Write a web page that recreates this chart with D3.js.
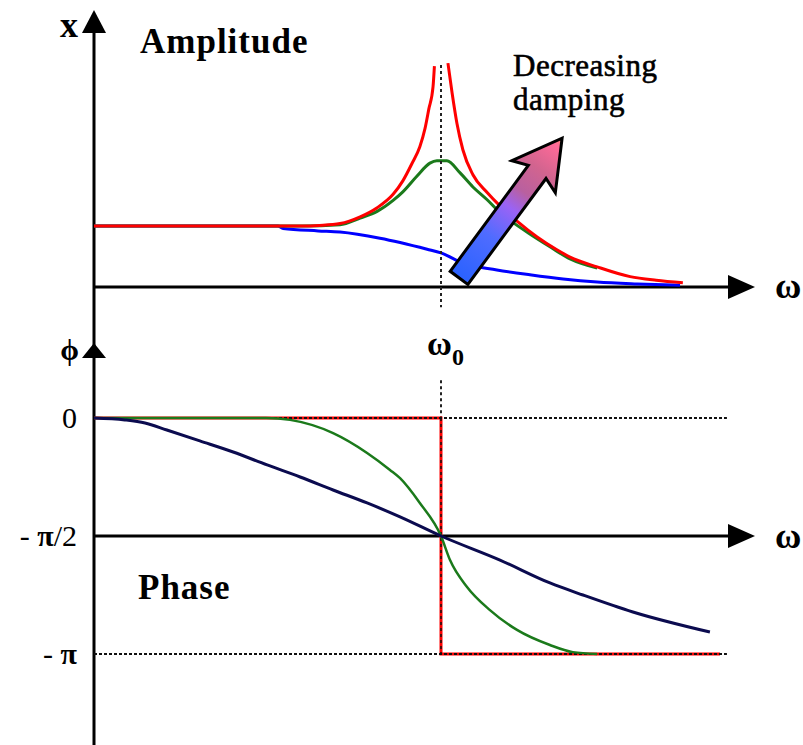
<!DOCTYPE html>
<html>
<head>
<meta charset="utf-8">
<script src="https://cdn.jsdelivr.net/npm/d3@7"></script>
<style>
body { margin: 0; background: #fff; }
text { font-family: "Liberation Serif", "Times New Roman", serif; fill: #000; }
</style>
</head>
<body>
<div id="chart"></div>
<script>
// omega in units of omega0, amplitude in units of the static amplitude
var amp_red_w = [0, 0.60, 0.65, 0.709, 0.767, 0.816, 0.862, 0.890, 0.916, 0.939, 0.954, 0.965, 0.977, 0.981, 1.0, 1.020, 1.032, 1.046, 1.063, 1.092, 1.133, 1.170, 1.219, 1.277, 1.334, 1.372, 1.450, 1.545, 1.620, 1.697];
var amp_red = [1.0, 1.0, 1.01, 1.04, 1.15, 1.30, 1.52, 1.74, 2.02, 2.30, 2.60, 2.92, 3.28, 3.62, null, 3.67, 3.18, 2.68, 2.25, 1.84, 1.55, 1.33, 1.08, 0.82, 0.61, 0.49, 0.33, 0.17, 0.11, 0.07];
var amp_green_w = [0, 0.60, 0.709, 0.767, 0.816, 0.862, 0.890, 0.931, 0.968, 0.988, 1.017, 1.055, 1.092, 1.133, 1.170, 1.207, 1.256, 1.314, 1.372, 1.450];
var amp_green = [1.0, 1.0, 1.02, 1.13, 1.24, 1.42, 1.56, 1.82, 2.03, 2.07, 2.07, 1.87, 1.64, 1.43, 1.22, 1.06, 0.87, 0.66, 0.46, 0.31];
var amp_blue_w = [0, 0.53, 0.545, 0.646, 0.709, 0.824, 0.960, 1.0, 1.063, 1.161, 1.256, 1.352, 1.450, 1.565, 1.689];
var amp_blue = [1.0, 1.0, 0.96, 0.92, 0.90, 0.80, 0.62, 0.56, 0.39, 0.28, 0.20, 0.13, 0.08, 0.05, 0.03];

// phase in units of pi
var phase_navy_w = [0, 0.089, 0.147, 0.210, 0.305, 0.401, 0.499, 0.594, 0.689, 0.787, 0.882, 1.0, 1.170, 1.314, 1.409, 1.553, 1.775];
var phase_navy = [0, -0.008, -0.021, -0.051, -0.097, -0.144, -0.199, -0.250, -0.305, -0.360, -0.419, -0.5, -0.602, -0.699, -0.750, -0.822, -0.907];
var phase_green_w = [0, 0.496, 0.565, 0.689, 0.787, 0.853, 0.882, 0.939, 1.0, 1.026, 1.075, 1.141, 1.219, 1.314, 1.380, 1.450];
var phase_green = [0, 0, -0.008, -0.064, -0.148, -0.220, -0.255, -0.360, -0.5, -0.602, -0.716, -0.814, -0.898, -0.962, -0.992, -1.0];
var phase_red_w = [0, 1, 1, 1.804];
var phase_red = [0, 0, -1, -1];

var phase_ticks = [0, -0.5, -1];
var phase_tick_labels = ["0", "- π/2", "- π"];

function zip(ws, vs){
    return ws.map(function(w, i){ return {w: w, v: vs[i]}; });
}

var width = 803;
var height = 745;
var axis_x = 94;
var axis_end = 755;

var svg = d3.select("#chart").append("svg")
            .attr("width", width)
            .attr("height", height);

var omegaScale = d3.scaleLinear().domain([0, 1]).range([axis_x, 441]);
var ampScale = d3.scaleLinear().domain([0, 1]).range([287, 226]);
var phaseScale = d3.scaleLinear().domain([0, -1]).range([418, 654]);

var ampLine = d3.line()
                .defined(function(d){ return d.v != null; })
                .x(function(d){ return omegaScale(d.w); })
                .y(function(d){ return ampScale(d.v); })
                .curve(d3.curveMonotoneX);
var phaseLine = d3.line()
                .x(function(d){ return omegaScale(d.w); })
                .y(function(d){ return phaseScale(d.v); })
                .curve(d3.curveMonotoneX);
var stepLine = d3.line()
                .x(function(d){ return omegaScale(d.w); })
                .y(function(d){ return phaseScale(d.v); });

// ---- axes ----
svg.append("line")
    .attr("x1", axis_x).attr("y1", 30)
    .attr("x2", axis_x).attr("y2", height)
    .attr("stroke", "black").attr("stroke-width", 3);
function upArrow(x, tipY, h){
    svg.append("path")
        .attr("d", "M" + x + "," + tipY + " L" + (x + 12) + "," + (tipY + h) + " L" + (x - 12) + "," + (tipY + h) + " Z")
        .attr("fill", "black");
}
function rightArrow(y){
    svg.append("line")
        .attr("x1", axis_x).attr("y1", y)
        .attr("x2", axis_end - 20).attr("y2", y)
        .attr("stroke", "black").attr("stroke-width", 3);
    svg.append("path")
        .attr("d", "M" + axis_end + "," + y + " L" + (axis_end - 27) + "," + (y - 12) + " L" + (axis_end - 27) + "," + (y + 12) + " Z")
        .attr("fill", "black");
}
upArrow(axis_x, 10, 23);
upArrow(axis_x, 343, 15);
rightArrow(ampScale(0));
rightArrow(phaseScale(-0.5));

// ---- amplitude panel ----
svg.append("path").datum(zip(amp_blue_w, amp_blue))
    .attr("d", ampLine).attr("fill", "none")
    .attr("stroke", "#0000ff").attr("stroke-width", 3);
svg.append("path").datum(zip(amp_green_w, amp_green))
    .attr("d", ampLine).attr("fill", "none")
    .attr("stroke", "#1b7a1b").attr("stroke-width", 3);
svg.append("path").datum(zip(amp_red_w, amp_red))
    .attr("d", ampLine).attr("fill", "none")
    .attr("stroke", "#ff0000").attr("stroke-width", 3);

// omega0 guide
svg.append("line")
    .attr("x1", omegaScale(1)).attr("y1", ampScale(3.64))
    .attr("x2", omegaScale(1)).attr("y2", ampScale(-0.33))
    .attr("stroke", "#222").attr("stroke-width", 2)
    .attr("stroke-dasharray", "3,3");
svg.append("line")
    .attr("x1", omegaScale(1)).attr("y1", phaseScale(0.16))
    .attr("x2", omegaScale(1)).attr("y2", phaseScale(0))
    .attr("stroke", "#222").attr("stroke-width", 2)
    .attr("stroke-dasharray", "3,3");

// decreasing damping arrow
var tail = [omegaScale(1.052), ampScale(0.15)];
var tip = [omegaScale(1.349), ampScale(2.44)];
var L = Math.hypot(tip[0] - tail[0], tip[1] - tail[1]);
var angle = Math.atan2(tip[1] - tail[1], tip[0] - tail[0]) * 180 / Math.PI;
var grad = svg.append("defs").append("linearGradient")
            .attr("id", "arrowGrad")
            .attr("gradientUnits", "userSpaceOnUse")
            .attr("x1", 0).attr("y1", 0).attr("x2", L).attr("y2", 0);
[[0, "#2a62ff"], [0.3, "#4f6cff"], [0.5, "#9a63f5"], [0.62, "#b9609f"], [0.78, "#d2648f"], [0.95, "#ff6a98"], [1, "#ff8a6a"]]
    .forEach(function(s){
        grad.append("stop").attr("offset", s[0]).attr("stop-color", s[1]);
    });
var arrowPts = [[0, -11], [L - 42, -11], [L - 48, -27], [L, 0], [L - 48, 27], [L - 42, 11], [0, 11]];
svg.append("polygon")
    .attr("points", arrowPts.map(function(p){ return p.join(","); }).join(" "))
    .attr("transform", "translate(" + tail[0] + "," + tail[1] + ") rotate(" + angle + ")")
    .attr("fill", "url(#arrowGrad)")
    .attr("stroke", "black").attr("stroke-width", 3)
    .attr("stroke-linejoin", "miter");

// ---- phase panel ----
svg.append("path").datum(zip(phase_red_w, phase_red))
    .attr("d", stepLine).attr("fill", "none")
    .attr("stroke", "#ff0000").attr("stroke-width", 3);
[0, -1].forEach(function(v){
    svg.append("line")
        .attr("x1", axis_x).attr("y1", phaseScale(v))
        .attr("x2", omegaScale(1.824)).attr("y2", phaseScale(v))
        .attr("stroke", "#111").attr("stroke-width", 2)
        .attr("stroke-dasharray", "3,2");
});
svg.append("line")
    .attr("x1", omegaScale(1)).attr("y1", phaseScale(0))
    .attr("x2", omegaScale(1)).attr("y2", phaseScale(-1))
    .attr("stroke", "#111").attr("stroke-width", 1.5)
    .attr("stroke-dasharray", "3,3");
svg.append("path").datum(zip(phase_green_w, phase_green))
    .attr("d", phaseLine).attr("fill", "none")
    .attr("stroke", "#1b7a1b").attr("stroke-width", 2.5);
svg.append("path").datum(zip(phase_navy_w, phase_navy))
    .attr("d", phaseLine).attr("fill", "none")
    .attr("stroke", "#0b0b4f").attr("stroke-width", 3);

var phaseAxis = d3.axisLeft(phaseScale)
                .tickValues(phase_ticks)
                .tickSize(0)
                .tickPadding(17)
                .tickFormat(function(d, i){ return phase_tick_labels[i]; });
var pa = svg.append("g")
            .attr("transform", "translate(" + axis_x + ",0)")
            .call(phaseAxis);
pa.select(".domain").remove();
pa.selectAll("text")
    .style("font-size", "30px")
    .attr("fill", "black")
    .each(function(){
        var t = d3.select(this);
        var s = t.text();
        t.text(null);
        s.split("π").forEach(function(part, i){
            if (i > 0) t.append("tspan").attr("font-weight", "bold").text("π");
            if (part) t.append("tspan").text(part);
        });
    });

// ---- labels ----
svg.append("text").attr("x", 78).attr("y", 37)
    .attr("text-anchor", "end")
    .style("font-size", "36px").style("font-weight", "bold")
    .text("x");
svg.append("text").attr("x", 79).attr("y", 360)
    .attr("text-anchor", "end")
    .style("font-size", "30px").style("font-weight", "bold")
    .text("ϕ");
svg.append("text").attr("x", 140).attr("y", 53)
    .style("font-size", "35px").style("font-weight", "bold")
    .style("letter-spacing", "1px")
    .text("Amplitude");
svg.append("text").attr("x", 138).attr("y", 599)
    .style("font-size", "35px").style("font-weight", "bold")
    .style("letter-spacing", "1px")
    .text("Phase");
svg.append("text").attr("x", 513).attr("y", 76)
    .style("font-size", "31px")
    .style("letter-spacing", "0.5px")
    .attr("stroke", "black").attr("stroke-width", 0.6)
    .text("Decreasing");
svg.append("text").attr("x", 513).attr("y", 110)
    .style("font-size", "31px")
    .style("letter-spacing", "0.5px")
    .attr("stroke", "black").attr("stroke-width", 0.6)
    .text("damping");
svg.append("text").attr("x", 775).attr("y", 298)
    .style("font-size", "36px").style("font-weight", "bold")
    .text("ω");
svg.append("text").attr("x", 775).attr("y", 548)
    .style("font-size", "36px").style("font-weight", "bold")
    .text("ω");
svg.append("text").attr("x", 427).attr("y", 355)
    .style("font-size", "34px").style("font-weight", "bold")
    .text("ω");
svg.append("text").attr("x", 452).attr("y", 365)
    .style("font-size", "24px").style("font-weight", "bold")
    .text("0");
</script>
</body>
</html>
